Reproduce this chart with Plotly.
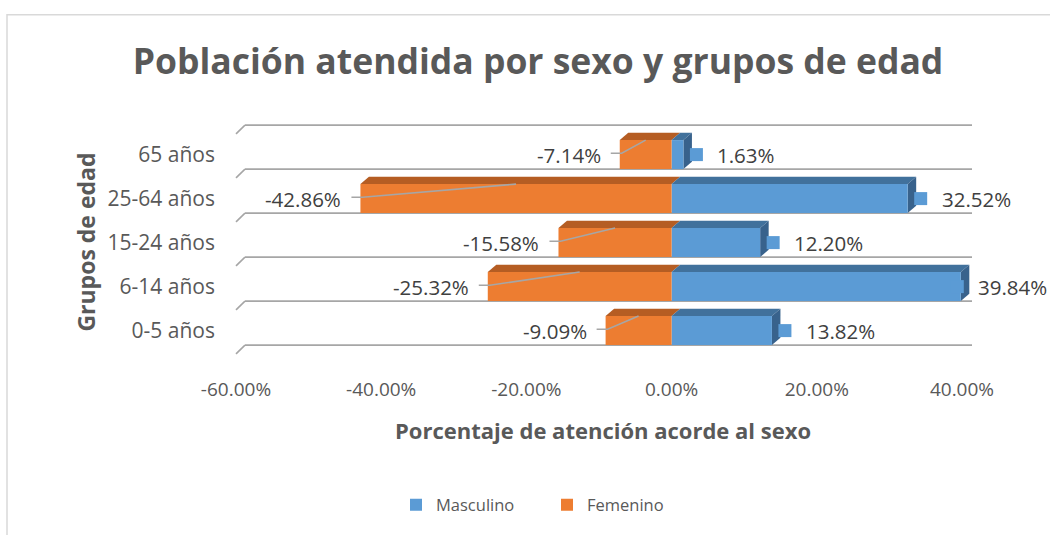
import plotly.graph_objects as go

# ---------------- data ----------------
categories = ["0-5 años", "6-14 años", "15-24 años", "25-64 años", "65 años"]
masculino = [13.82, 39.84, 12.20, 32.52, 1.63]
femenino = [-9.09, -25.32, -15.58, -42.86, -7.14]
x_ticks = [-60, -40, -20, 0, 20, 40]

# ---------------- layout geometry (pixels) ----------------
W, H = 1050, 535
L, R, T, B = 236, 972, 114.5, 362
X_MIN, X_MAX = -60, 41.38
Y_MIN, Y_MAX = -0.6, 4.9
PX_PER_X = (R - L) / (X_MAX - X_MIN)
PX_PER_Y = (B - T) / (Y_MAX - Y_MIN)


def px_x(px):
    return (px - L) / (R - L)


def px_y(py):
    return (B - py) / (B - T)


def x_to_px(v):
    return L + (v - X_MIN) * PX_PER_X


BAR_W = 0.66
DX = 8.5 / PX_PER_X      # depth offset in x units
DY = 7.5 / PX_PER_Y      # depth offset in y units

BLUE = "#5B9BD5"
BLUE_TOP = "#41719C"
BLUE_SIDE = "#38628C"
ORANGE = "#ED7D31"
ORANGE_TOP = "#B55D23"
GRID = "#A6A6A6"
TXT = "#595959"
LBL = "#404040"
FONT = "Open Sans"
LBL_SIZE = 20.5

ypos = list(range(len(categories)))

# horizontal placement of the Masculino labels (keep them inside the page)
lbl_shift = []
for m in masculino:
    front = x_to_px(m)
    lbl_shift.append(min(32, (W - 4 - 3.4 * LBL_SIZE) - front))

fig = go.Figure()
fig.add_trace(go.Bar(
    y=ypos, x=masculino, orientation="h", name="Masculino",
    marker=dict(color=BLUE, line=dict(width=0)), width=BAR_W,
    hoverinfo="x+name",
))
fig.add_trace(go.Bar(
    y=ypos, x=femenino, orientation="h", name="Femenino",
    marker=dict(color=ORANGE, line=dict(width=0)), width=BAR_W,
    hoverinfo="x+name",
))

# small legend-key squares next to the Masculino labels
fig.add_trace(go.Scatter(
    y=ypos, x=[m + (s - 19) / PX_PER_X for m, s in zip(masculino, lbl_shift)],
    mode="markers",
    marker=dict(symbol="square", size=13, color=BLUE),
    showlegend=False, hoverinfo="skip",
))

shapes = []
# chart border
shapes.append(dict(type="rect", xref="paper", yref="paper",
                   x0=px_x(7), x1=px_x(1052), y0=px_y(12), y1=px_y(545),
                   line=dict(color="#D9D9D9", width=1.5), layer="below"))

# category grid lines with depth ticks
for k in range(len(categories) + 1):
    b = k - BAR_W / 2
    shapes.append(dict(type="line", xref="paper", yref="y",
                       x0=px_x(L + 9), x1=1, y0=b, y1=b,
                       line=dict(color=GRID, width=1.6), layer="below"))
    shapes.append(dict(type="line", xref="paper", yref="y",
                       x0=0, x1=px_x(L + 9), y0=b - 9 / PX_PER_Y, y1=b,
                       line=dict(color=GRID, width=1.6), layer="below"))

# 3D faces
for i, (m, f) in enumerate(zip(masculino, femenino)):
    yt = i + BAR_W / 2
    yb = i - BAR_W / 2
    shapes.append(dict(type="path", xref="x", yref="y", layer="between",
                       path=f"M {f},{yt} L {f + DX},{yt + DY} L {DX},{yt + DY} L 0,{yt} Z",
                       fillcolor=ORANGE_TOP, line=dict(width=0)))
    shapes.append(dict(type="path", xref="x", yref="y", layer="between",
                       path=f"M 0,{yt} L {DX},{yt + DY} L {m + DX},{yt + DY} L {m},{yt} Z",
                       fillcolor=BLUE_TOP, line=dict(width=0)))
    shapes.append(dict(type="path", xref="x", yref="y", layer="between",
                       path=f"M {m},{yb} L {m},{yt} L {m + DX},{yt + DY} L {m + DX},{yb + DY} Z",
                       fillcolor=BLUE_SIDE, line=dict(width=0)))
    # leader line for the Femenino label
    g = 9 / PX_PER_X
    shapes.append(dict(type="path", xref="x", yref="y", layer="above",
                       path=f"M {f - g},{i + 0.03} L {f + 2 / PX_PER_X},{i + 0.03} L {f / 2},{yt}",
                       line=dict(color=GRID, width=1.6)))

annotations = []
for i, (m, f) in enumerate(zip(masculino, femenino)):
    annotations.append(dict(x=f, y=i, xref="x", yref="y", text=f"{f:.2f}%",
                            showarrow=False, xanchor="right", yanchor="middle",
                            xshift=-17, font=dict(family=FONT, size=LBL_SIZE, color=LBL)))
    annotations.append(dict(x=m, y=i, xref="x", yref="y", text=f"{m:.2f}%",
                            showarrow=False, xanchor="left", yanchor="middle",
                            xshift=lbl_shift[i], font=dict(family=FONT, size=LBL_SIZE, color=LBL)))

# axis titles
annotations.append(dict(x=px_x(603), y=px_y(437), xref="paper", yref="paper",
                        text="<b>Porcentaje de atención acorde al sexo</b>",
                        showarrow=False, xanchor="center", yanchor="middle",
                        font=dict(family=FONT, size=22, color=TXT)))
annotations.append(dict(x=px_x(86), y=px_y(245), xref="paper", yref="paper",
                        text="<b>Grupos de edad</b>", textangle=-90,
                        showarrow=False, xanchor="center", yanchor="middle",
                        font=dict(family=FONT, size=23, color=TXT)))

fig.update_layout(
    width=W, height=H,
    margin=dict(l=L, r=W - R, t=T, b=H - B, pad=0),
    paper_bgcolor="white", plot_bgcolor="white",
    barmode="overlay",
    title=dict(text="<b>Población atendida por sexo y grupos de edad</b>",
               x=538 / W, xref="container", xanchor="center",
               y=1 - 62 / H, yref="container", yanchor="middle",
               font=dict(family=FONT, size=35.5, color=TXT)),
    xaxis=dict(range=[X_MIN, X_MAX], tickvals=x_ticks,
               ticktext=[f"{v:.2f}%" for v in x_ticks],
               showgrid=False, zeroline=False, showline=False, ticks="",
               ticklabelstandoff=19, fixedrange=True,
               tickfont=dict(family=FONT, size=19, color=TXT)),
    yaxis=dict(range=[Y_MIN, Y_MAX], tickvals=ypos, ticktext=categories,
               showgrid=False, zeroline=False, showline=False, ticks="",
               ticklabelstandoff=20, fixedrange=True,
               tickfont=dict(family=FONT, size=21, color=TXT)),
    legend=dict(orientation="h", x=px_x(547), y=px_y(513.5),
                xanchor="center", yanchor="middle",
                font=dict(family=FONT, size=16.5, color=TXT),
                entrywidth=106, entrywidthmode="pixels",
                traceorder="normal"),
    shapes=shapes,
    annotations=annotations,
    showlegend=True,
)

fig.write_html("out.html", config={"displayModeBar": False},
               post_script="document.body.style.margin='0px';")
